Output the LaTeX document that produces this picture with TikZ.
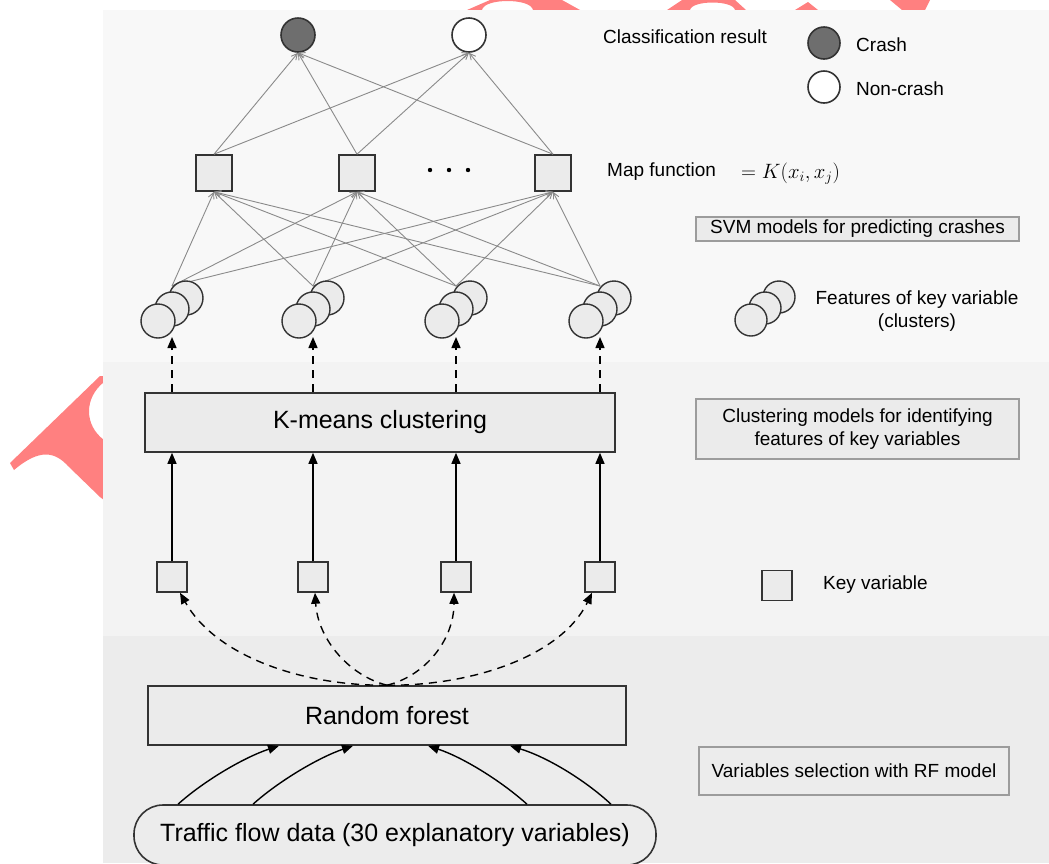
\documentclass[tikz,border=0pt]{standalone}
\usepackage{fontspec}
\setmainfont{Liberation Sans}
\usetikzlibrary{arrows.meta}
\definecolor{bgtop}{HTML}{F8F8F8}
\definecolor{bgmid}{HTML}{F3F3F3}
\definecolor{bgbot}{HTML}{ECECEC}
\definecolor{boxfill}{HTML}{EBEBEB}
\definecolor{edge}{HTML}{333333}
\definecolor{legline}{HTML}{9C9C9C}
\definecolor{netgray}{HTML}{8A8A8A}
\definecolor{crashfill}{HTML}{6E6E6E}
\definecolor{wm}{HTML}{FF8080}
\begin{document}
\begin{tikzpicture}[x=1pt,y=-1pt,
  bigtxt/.style={font=\fontsize{25}{30}\selectfont},
  smalltxt/.style={font=\fontsize{19}{23}\selectfont},
  mainbox/.style={draw=edge,line width=1.6pt,fill=boxfill,inner sep=0pt,bigtxt},
  legbox/.style={draw=legline,line width=1.4pt,fill=boxfill,inner sep=0pt,smalltxt,align=center},
  lbl/.style={smalltxt,anchor=west,inner sep=0pt},
  sq/.style={draw=edge,line width=1.6pt,fill=boxfill,minimum size=36pt,inner sep=0pt},
  kvsq/.style={draw=edge,line width=1.5pt,fill=boxfill,minimum size=30pt,inner sep=0pt},
  outc/.style={circle,draw=edge,line width=1.6pt,minimum size=34pt,inner sep=0pt},
  clc/.style={circle,draw=edge,line width=1.4pt,fill=boxfill,minimum size=34pt,inner sep=0pt},
  net/.style={draw=netgray,line width=0.9pt,-{Straight Barb[length=6pt,width=6pt]}},
  arr/.style={draw=black,line width=1.4pt,-{Triangle[length=11pt,width=9pt]}},
  darr/.style={arr,dash pattern=on 8pt off 6pt},
]
\useasboundingbox (0,0) rectangle (1049,863);
% watermark fragments
\fill[wm] (467,10) -- (490,0) -- (562,0) -- (580,10) -- (533,10) .. controls (531,-2) and (484,-2) .. (482,10) -- cycle;
\fill[wm] (667,10) -- (682,0) -- (735,0) -- (746,10) -- (735,10) .. controls (733,0) and (692,0) .. (690,10) -- cycle;
\fill[wm] (795,10) -- (808,2) -- (818,10) -- cycle;
\fill[wm] (890,0) -- (930,0) -- (925,10) -- (902,10) -- cycle;
\fill[wm] (10,463) -- (100,376) -- (104,376) -- (104,382) .. controls (84,398) and (84,425) .. (104,440) -- (104,500) -- (100,497) -- (68,466) .. controls (55,452) and (40,448) .. (14,470) -- cycle;
% background bands
\fill[bgtop] (103,10) rectangle (1049,362);
\fill[bgmid] (103,362) rectangle (1049,636);
\fill[bgbot] (103,636) rectangle (1049,863);

% output circles
\node[outc,fill=crashfill] (o1) at (298,35) {};
\node[outc,fill=white] (o2) at (469,35) {};
% map squares
\node[sq] (m1) at (214,173) {};
\node[sq] (m2) at (357,173) {};
\node[sq] (m3) at (553,173) {};
\fill (430,170) circle (2.2pt) (449,170) circle (2.2pt) (468,170) circle (2.2pt);

\foreach \m in {1,2,3} {
  \draw[net] (m\m.north) -- (o1.south);
  \draw[net] (m\m.north) -- (o2.south);
}

% cluster groups
\foreach \X/\n in {172/1,313/2,456/3,600/4} {
  \coordinate (ap\n) at (\X,286);
  \coordinate (tip\n) at (\X,337);
}
\foreach \n in {1,2,3,4} {
  \foreach \m in {1,2,3} {
    \draw[net] (ap\n) -- (m\m.south);
  }
}
\foreach \X/\n in {172/1,313/2,456/3,600/4} {
  \node[clc] (c\n a) at ({\X+14},298) {};
  \node[clc] (c\n b) at (\X,309) {};
  \node[clc] (c\n c) at ({\X-14},321) {};
}

% K-means
\node[mainbox,minimum width=470pt,minimum height=59pt] (km) at (380,422.5) {K-means clustering};
\foreach \n in {1,2,3,4} {
  \draw[darr] (km.north -| tip\n) -- (tip\n);
}

% key variables
\node[kvsq] (kv1) at (172,577) {};
\node[kvsq] (kv2) at (313,577) {};
\node[kvsq] (kv3) at (456,577) {};
\node[kvsq] (kv4) at (600,577) {};
\foreach \n in {1,2,3,4} {
  \draw[arr] (kv\n.north) -- (kv\n.north |- km.south);
}

% random forest
\node[mainbox,minimum width=478pt,minimum height=59pt] (rf) at (387,715.5) {Random forest};
\draw[darr] (rf.north) .. controls (300,686) and (215,655) .. ([xshift=8pt]kv1.south);
\draw[darr] (rf.north) .. controls (350,676) and (318,640) .. ([xshift=2pt]kv2.south);
\draw[darr] (rf.north) .. controls (425,676) and (454,640) .. ([xshift=-2pt]kv3.south);
\draw[darr] (rf.north) .. controls (474,686) and (562,655) .. ([xshift=-8pt]kv4.south);

% traffic data
\node[draw=edge,line width=1.6pt,fill=bgbot,rounded corners=29pt,minimum width=522pt,minimum height=60pt,inner sep=0pt,bigtxt] (tf) at (395,835) {Traffic flow data (30 explanatory variables)};
\draw[arr] ([xshift=-217pt]tf.north) .. controls (205,780) and (245,757) .. ([xshift=-108pt]rf.south);
\draw[arr] ([xshift=-142pt]tf.north) .. controls (280,780) and (320,757) .. ([xshift=-34pt]rf.south);
\draw[arr] ([xshift=132pt]tf.north) .. controls (500,780) and (462,757) .. ([xshift=41pt]rf.south);
\draw[arr] ([xshift=216pt]tf.north) .. controls (585,780) and (547,757) .. ([xshift=123pt]rf.south);

% legend
\node[lbl] (clres) at (603,37) {Classification result};
\node[outc,fill=crashfill,minimum size=32pt] (lcrash) at (824,43) {};
\node[lbl] (tcrash) at (856,45) {Crash};
\node[outc,fill=white,minimum size=32pt] (lnon) at (824,87) {};
\node[lbl] (tnon) at (856,89) {Non-crash};
\node[lbl] (mapf) at (607,172) {Map function};
\node[anchor=west,inner sep=0pt,font=\fontsize{20}{24}\selectfont] (kfun) at (741,174) {$=K(x_i,x_j)$};
\node[legbox,minimum width=323pt,minimum height=24pt] (svm) at (857.5,229) {SVM models for predicting crashes};
\node[clc,minimum size=32pt] (lc1) at (779,297) {};
\node[clc,minimum size=32pt] (lc2) at (765,308) {};
\node[clc,minimum size=32pt] (lc3) at (751,320) {};
\node[smalltxt,align=center,inner sep=0pt] (feat) at (917,311) {Features of key variable\\(clusters)};
\node[legbox,minimum width=323pt,minimum height=60pt] (clm) at (857.5,429) {Clustering models for identifying\\features of key variables};
\node[kvsq] (lkv) at (777,585.5) {};
\node[lbl] (tkv) at (823,585) {Key variable};
\node[legbox,fill=bgbot,minimum width=310pt,minimum height=48pt] (vs) at (854,771) {Variables selection with RF model};
\end{tikzpicture}
\end{document}
